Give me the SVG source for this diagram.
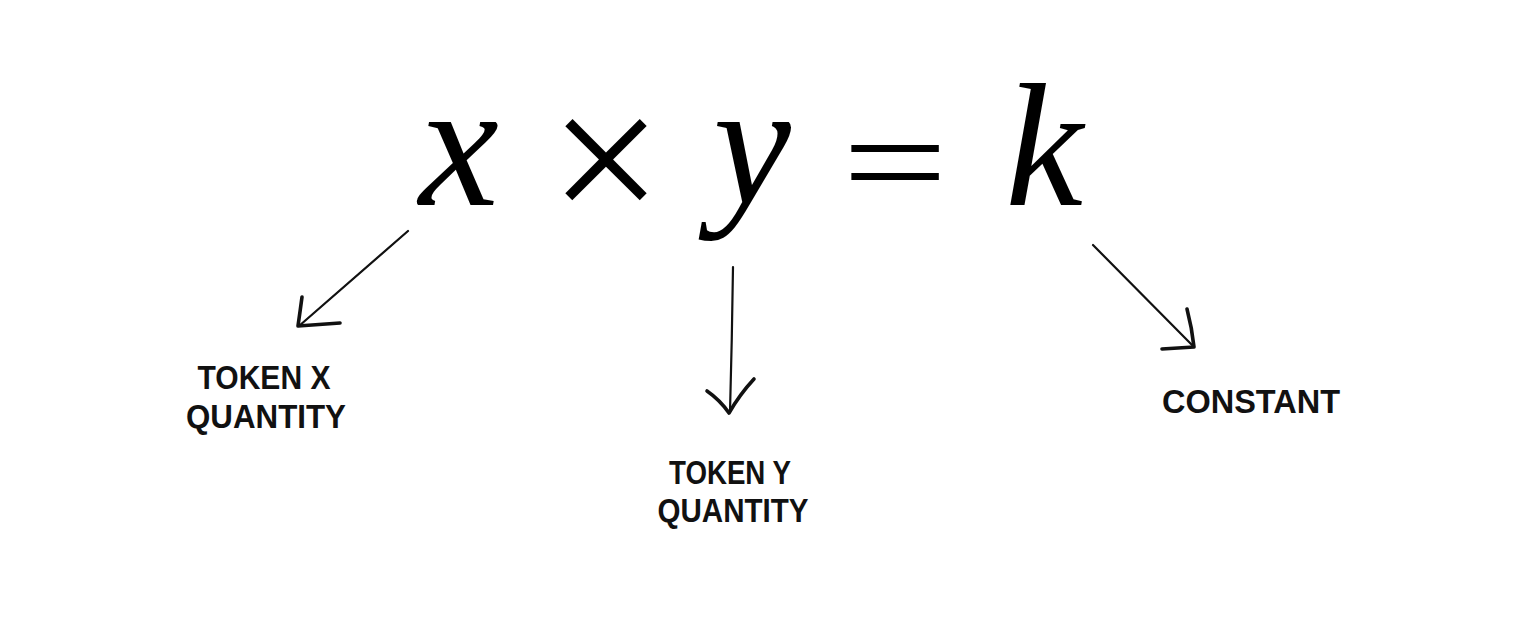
<svg xmlns="http://www.w3.org/2000/svg" width="1520" height="622" viewBox="0 0 1520 622">
<style>
.eq{font-family:"Liberation Serif","DejaVu Serif",serif;font-style:italic;fill:#000;text-anchor:middle}
.op{font-family:"Liberation Serif","DejaVu Serif",serif;fill:#000;text-anchor:middle}
.lbl{font-family:"Liberation Sans","DejaVu Sans",sans-serif;font-weight:bold;font-size:33px;fill:#111;text-anchor:middle}
.shaft{fill:none;stroke:#111;stroke-width:2.2;stroke-linecap:round}
.head{fill:none;stroke:#111;stroke-width:3.6;stroke-linecap:round;stroke-linejoin:round}
</style>
<rect width="1520" height="622" fill="#fff"/>
<g id="equation">
<text class="eq" x="459" y="205" font-size="180">x</text>
<text class="op" x="606" y="226" font-size="200">×</text>
<text class="eq" x="752" y="203" font-size="175">y</text>
<text class="op" x="895" y="236" font-size="200" textLength="106" lengthAdjust="spacingAndGlyphs" transform="translate(0,161) scale(1,0.7) translate(0,-168)">=</text>
<text class="eq" x="1044" y="205" font-size="175">k</text>
</g>
<g id="label-token-x">
<text class="lbl" x="264" y="389" textLength="133" lengthAdjust="spacingAndGlyphs">TOKEN X</text>
<text class="lbl" x="266" y="428" textLength="160" lengthAdjust="spacingAndGlyphs">QUANTITY</text>
</g>
<g id="label-token-y">
<text class="lbl" x="730" y="484" textLength="122" lengthAdjust="spacingAndGlyphs">TOKEN Y</text>
<text class="lbl" x="733" y="522" textLength="151" lengthAdjust="spacingAndGlyphs">QUANTITY</text>
</g>
<g id="label-constant">
<text class="lbl" x="1251" y="413" textLength="178" lengthAdjust="spacingAndGlyphs">CONSTANT</text>
</g>
<g id="connectors">
<path class="shaft" d="M408,231 L299,326"/>
<path class="head" d="M302,297 Q300,312 298,326 L340,323"/>
<path class="shaft" d="M733,267 Q732,340 730,412"/>
<path class="head" d="M707,391 Q720,400 729,413 Q740,394 754,379"/>
<path class="shaft" d="M1093,245 L1194,347"/>
<path class="head" d="M1187,309 Q1192,328 1194,347 L1162,349"/>
</g>
</svg>
